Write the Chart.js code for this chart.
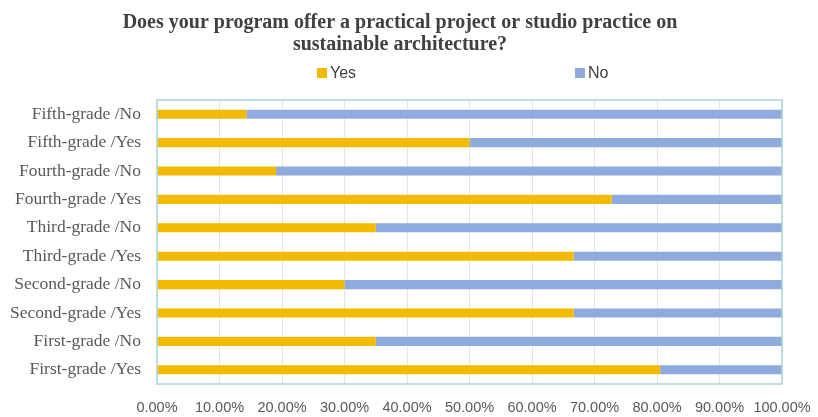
<!DOCTYPE html>
<html>
<head>
<meta charset="utf-8">
<script src="https://cdn.jsdelivr.net/npm/chart.js@4.4.1/dist/chart.umd.min.js"></script>
<style>
  html, body { margin: 0; padding: 0; background: #fff; }
  #wrap { width: 818px; height: 417px; }
</style>
</head>
<body>
<div id="wrap"><canvas id="studioChart" width="818" height="417"></canvas></div>
<script>
// categories listed top to bottom
const categories = [
  'Fifth-grade /No', 'Fifth-grade /Yes',
  'Fourth-grade /No', 'Fourth-grade /Yes',
  'Third-grade /No', 'Third-grade /Yes',
  'Second-grade /No', 'Second-grade /Yes',
  'First-grade /No', 'First-grade /Yes'
];
// share of answers, in percent
const yesShare = [14.29, 50.00, 19.05, 72.73, 35.00, 66.67, 30.00, 66.67, 35.00, 80.50];
const noShare  = [85.71, 50.00, 80.95, 27.27, 65.00, 33.33, 70.00, 33.33, 65.00, 19.50];
const tickValues = [0, 10, 20, 30, 40, 50, 60, 70, 80, 90, 100];

const yesColor = '#F2BA00';
const noColor = '#8FAADC';

// plot frame plus the spread-out legend above it
const framePlugin = {
  id: 'frame',
  afterDatasetsDraw(chart) {
    const { ctx, chartArea: a } = chart;
    ctx.save();
    ctx.strokeStyle = '#A9D6D6';
    ctx.lineWidth = 1.5;
    ctx.strokeRect(a.left, a.top, a.right - a.left, a.bottom - a.top);
    ctx.restore();
  },
  afterDraw(chart) {
    const { ctx } = chart;
    const spots = [317, 575];
    ctx.save();
    ctx.font = '16px "Liberation Sans"';
    ctx.textBaseline = 'middle';
    ctx.textAlign = 'left';
    chart.data.datasets.forEach((ds, i) => {
      const x = spots[i];
      ctx.fillStyle = ds.backgroundColor;
      ctx.fillRect(x, 68, 10, 10);
      ctx.fillStyle = '#404040';
      ctx.fillText(ds.label, x + 13, 73.5);
    });
    ctx.restore();
  }
};

const ctx = document.getElementById('studioChart').getContext('2d');
const studioChart = new Chart(ctx, {
  type: 'bar',
  data: {
    labels: categories,
    datasets: [{
      label: 'Yes',
      data: yesShare,
      backgroundColor: yesColor,
      barPercentage: 0.32,
      categoryPercentage: 1
    }, {
      label: 'No',
      data: noShare,
      backgroundColor: noColor,
      barPercentage: 0.32,
      categoryPercentage: 1
    }]
  },
  options: {
    indexAxis: 'y',
    responsive: false,
    animation: false,
    layout: { padding: { left: 0, right: 18, top: 0, bottom: 1 } },
    plugins: {
      legend: { display: false },
      tooltip: { enabled: false },
      title: {
        display: true,
        text: ['Does your program offer a practical project or studio practice on', 'sustainable architecture?'],
        font: { family: '"Liberation Serif"', size: 20, weight: 'bold', lineHeight: 1.1 },
        color: '#404040',
        padding: { top: 11.5, bottom: 44.5 }
      }
    },
    scales: {
      x: {
        stacked: true,
        min: 0,
        max: 100,
        afterBuildTicks: s => { s.ticks = tickValues.map(v => ({ value: v })); },
        afterFit: s => { s.height = 32; s.paddingLeft = 0; s.paddingRight = 36; },
        ticks: {
          padding: 15,
          maxRotation: 0,
          minRotation: 0,
          autoSkip: false,
          color: '#595959',
          font: { family: '"Liberation Sans"', size: 14.5 },
          callback: v => v.toFixed(2) + '%'
        },
        grid: { color: '#E4E4E4', lineWidth: 1, drawTicks: false },
        border: { display: false }
      },
      y: {
        stacked: true,
        afterFit: s => { s.width = 157; s.paddingTop = 0; s.paddingBottom = 0; },
        ticks: {
          padding: 16,
          color: '#595959',
          font: { family: '"Liberation Serif"', size: 17.5 }
        },
        grid: { display: false, drawTicks: false },
        border: { display: false }
      }
    }
  },
  plugins: [framePlugin]
});
</script>
</body>
</html>
